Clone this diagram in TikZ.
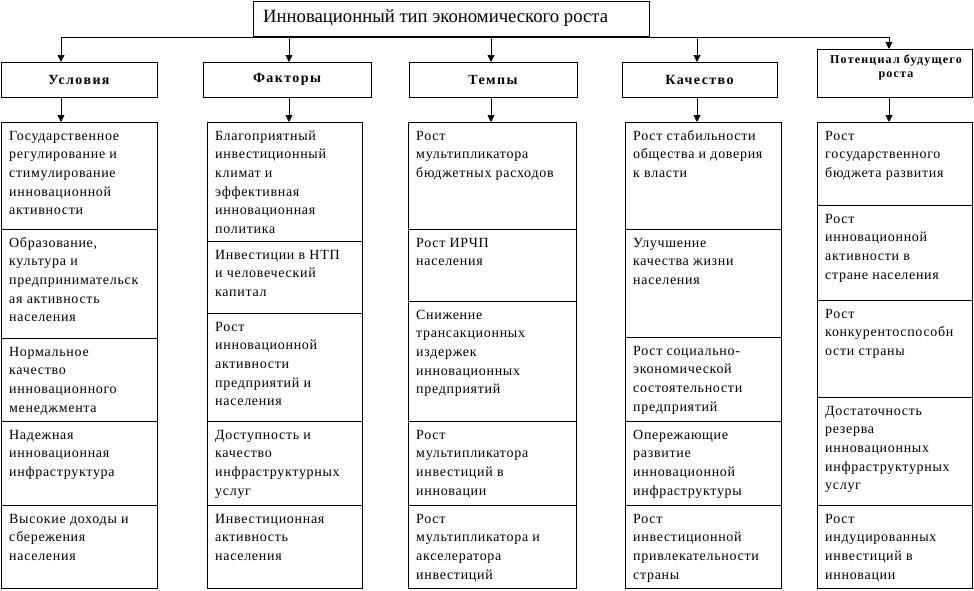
\documentclass[tikz,border=0pt]{standalone}
\usepackage{fontspec}
\setmainfont{Liberation Serif}
\usetikzlibrary{arrows.meta,fit}
\newfontfamily\cellfam{Liberation Serif}[LetterSpace=5]
\newfontfamily\headfam{Liberation Serif}[LetterSpace=10]
\newcommand\cellfont{\cellfam\fontsize{14}{18.6}\selectfont}
\newcommand\headfont{\headfam\bfseries\fontsize{14}{16}\selectfont}
\newcommand\mkcell[6]{%
  \path (#2,#3) coordinate (#1a) (#4,#5) coordinate (#1b);
  \node[frame, fit=(#1a)(#1b)] (#1) {};
  \node[celltext] (#1t) at ([shift={(8,5)}]#1.north west) {\strut#6};
}
\tikzset{
  frame/.style={draw, line width=0.9pt, inner sep=0pt, outer sep=0pt},
  celltext/.style={anchor=north west, inner sep=0pt, align=left, font=\cellfont},
  headtext/.style={inner sep=0pt, align=center, font=\headfont},
  arr/.style={line width=0.9pt, -{Triangle[length=7pt,width=7pt]}},
  bus/.style={line width=0.9pt}
}
\begin{document}
\begin{tikzpicture}[x=1pt,y=-1pt]
\useasboundingbox (0,0) rectangle (974,590);
% title
\path (253,1) coordinate (ta) (649,36) coordinate (tb);
\node[frame, fit=(ta)(tb)] (title) {};
\node[anchor=west, inner sep=0pt, font=\fontsize{18.7}{22}\selectfont] (titlet) at (263,18.5) {Инновационный тип экономического роста};
% headers
\path (1,62) coordinate (h1a) (157,97) coordinate (h1b);
\node[frame, fit=(h1a)(h1b)] (h1) {};
\node[headtext] (h1t) at (h1) {Условия};
\path (203,62) coordinate (h2a) (371,97) coordinate (h2b);
\node[frame, fit=(h2a)(h2b)] (h2) {};
\node[headtext] (h2t) at (h2) {Факторы};
\path (409,62) coordinate (h3a) (577,97) coordinate (h3b);
\node[frame, fit=(h3a)(h3b)] (h3) {};
\node[headtext] (h3t) at (h3) {Темпы};
\path (622,62) coordinate (h4a) (777,97) coordinate (h4b);
\node[frame, fit=(h4a)(h4b)] (h4) {};
\node[headtext] (h4t) at (h4) {Качество};
\path (817,49) coordinate (h5a) (972,97) coordinate (h5b);
\node[frame, fit=(h5a)(h5b)] (h5) {};
\node[inner sep=0pt, align=center, font=\headfam\bfseries\fontsize{12}{13.5}\selectfont, anchor=north] (h5t) at (896,55) {Потенциал будущего\\роста};
% column 1
\mkcell{c11}{1}{122}{157}{229}{Государственное\\регулирование и\\стимулирование\\инновационной\\активности}
\mkcell{c12}{1}{229}{157}{338}{Образование,\\культура и\\предпринимательск\\ая активность\\населения}
\mkcell{c13}{1}{338}{157}{421}{Нормальное\\качество\\инновационного\\менеджмента}
\mkcell{c14}{1}{421}{157}{505}{Надежная\\инновационная\\инфраструктура}
\mkcell{c15}{1}{505}{157}{588}{Высокие доходы и\\сбережения\\населения}
% column 2
\mkcell{c21}{207}{122}{362}{241}{Благоприятный\\инвестиционный\\климат и\\эффективная\\инновационная\\политика}
\mkcell{c22}{207}{241}{362}{313}{Инвестиции в НТП\\и человеческий\\капитал}
\mkcell{c23}{207}{313}{362}{421}{Рост\\инновационной\\активности\\предприятий и\\населения}
\mkcell{c24}{207}{421}{362}{505}{Доступность и\\качество\\инфраструктурных\\услуг}
\mkcell{c25}{207}{505}{362}{588}{Инвестиционная\\активность\\населения}
% column 3
\mkcell{c31}{408}{122}{576}{229}{Рост\\мультипликатора\\бюджетных расходов}
\mkcell{c32}{408}{229}{576}{301}{Рост ИРЧП\\населения}
\mkcell{c33}{408}{301}{576}{421}{Снижение\\трансакционных\\издержек\\инновационных\\предприятий}
\mkcell{c34}{408}{421}{576}{505}{Рост\\мультипликатора\\инвестиций в\\инновации}
\mkcell{c35}{408}{505}{576}{588}{Рост\\мультипликатора и\\акселератора\\инвестиций}
% column 4
\mkcell{c41}{625}{122}{781}{229}{Рост стабильности\\общества и доверия\\к власти}
\mkcell{c42}{625}{229}{781}{337}{Улучшение\\качества жизни\\населения}
\mkcell{c43}{625}{337}{781}{421}{Рост социально-\\экономической\\состоятельности\\предприятий}
\mkcell{c44}{625}{421}{781}{505}{Опережающие\\развитие\\инновационной\\инфраструктуры}
\mkcell{c45}{625}{505}{781}{588}{Рост\\инвестиционной\\привлекательности\\страны}
% column 5
\mkcell{c51}{817}{122}{972}{205}{Рост\\государственного\\бюджета развития}
\mkcell{c52}{817}{205}{972}{300}{Рост\\инновационной\\активности в\\стране населения}
\mkcell{c53}{817}{300}{972}{397}{Рост\\конкурентоспособн\\ости страны}
\mkcell{c54}{817}{397}{972}{505}{Достаточность\\резерва\\инновационных\\инфраструктурных\\услуг}
\mkcell{c55}{817}{505}{972}{588}{Рост\\индуцированных\\инвестиций в\\инновации}
% connectors
\coordinate (a1) at (61,37);
\coordinate (a2) at (289,37);
\coordinate (a3) at (491,37);
\coordinate (a4) at (697,37);
\coordinate (a5) at (889,37);
\draw[bus] (a1) -- (a5);
\foreach \i in {1,...,5}{
  \draw[arr] (a\i) -- (a\i |- h\i.north);
  \draw[arr] (a\i |- h\i.south) -- (a\i |- c\i1.north);
}
\end{tikzpicture}
\end{document}
